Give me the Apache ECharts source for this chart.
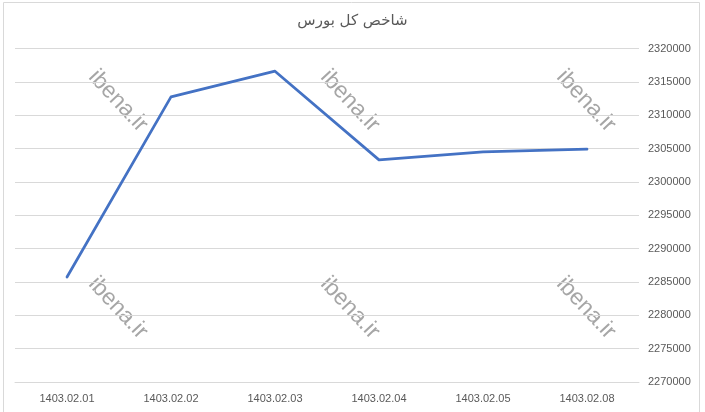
<!DOCTYPE html>
<html>
<head>
<meta charset="utf-8">
<script src="https://cdn.jsdelivr.net/npm/echarts@6/dist/echarts.min.js"></script>
<style>
  html, body { margin: 0; padding: 0; background: #fff; }
  #chart { width: 705px; height: 412px; }
</style>
</head>
<body>
<div id="chart"></div>
<script>
// تاریخ‌ها و مقدار شاخص کل
const dates = ['1403.02.01', '1403.02.02', '1403.02.03', '1403.02.04', '1403.02.05', '1403.02.08']
const indexValues = [2285750, 2312750, 2316600, 2303300, 2304500, 2304900]
const watermarkSpots = [[118, 101], [350, 101], [586, 101], [118, 308], [350, 308], [586, 308]]

let myEcharts = echarts.init(document.getElementById('chart'))

let watermarks = watermarkSpots.map(function (p) {
  return {
    type: 'text',
    x: p[0],
    y: p[1],
    rotation: -47 * Math.PI / 180,
    z: 0,
    style: {
      text: 'ibena.ir',
      fill: '#a6a6a6',
      font: '23px "Liberation Sans", Arial, sans-serif',
      align: 'center',
      verticalAlign: 'middle'
    }
  }
})

let option = {
  animation: false,
  title: {
    text: 'شاخص کل بورس',
    left: 'center',
    top: 9,
    textStyle: {
      fontFamily: '"DejaVu Sans", "Noto Sans", sans-serif',
      fontSize: 15,
      fontWeight: 'normal',
      color: '#595959'
    }
  },
  grid: {
    left: 15,
    right: 66,
    top: 48.5,
    bottom: 30
  },
  xAxis: {
    type: 'category',
    data: dates,
    boundaryGap: true,
    axisLine: { lineStyle: { color: '#d9d9d9', width: 1 } },
    axisTick: { show: false },
    axisLabel: {
      color: '#595959',
      fontSize: 11,
      fontFamily: '"Liberation Sans", Arial, sans-serif',
      margin: 11
    }
  },
  yAxis: {
    type: 'value',
    position: 'right',
    min: 2270000,
    max: 2320000,
    interval: 5000,
    axisLine: { show: false },
    axisTick: { show: false },
    axisLabel: {
      color: '#595959',
      fontSize: 11,
      fontFamily: '"Liberation Sans", Arial, sans-serif',
      margin: 9,
      formatter: function (v) { return String(v) }
    },
    splitLine: { lineStyle: { color: '#d9d9d9', width: 1 } }
  },
  series: [
    {
      name: 'شاخص کل',
      type: 'line',
      data: indexValues,
      showSymbol: false,
      symbol: 'none',
      z: 3,
      lineStyle: { color: '#4472c4', width: 2.75, cap: 'round', join: 'round' }
    }
  ],
  graphic: [
    {
      type: 'rect',
      shape: { x: 3.5, y: 2.5, width: 696, height: 412 },
      style: { fill: 'none', stroke: '#d9d9d9', lineWidth: 1 },
      silent: true
    }
  ].concat(watermarks)
}
myEcharts.setOption(option)
</script>
</body>
</html>
